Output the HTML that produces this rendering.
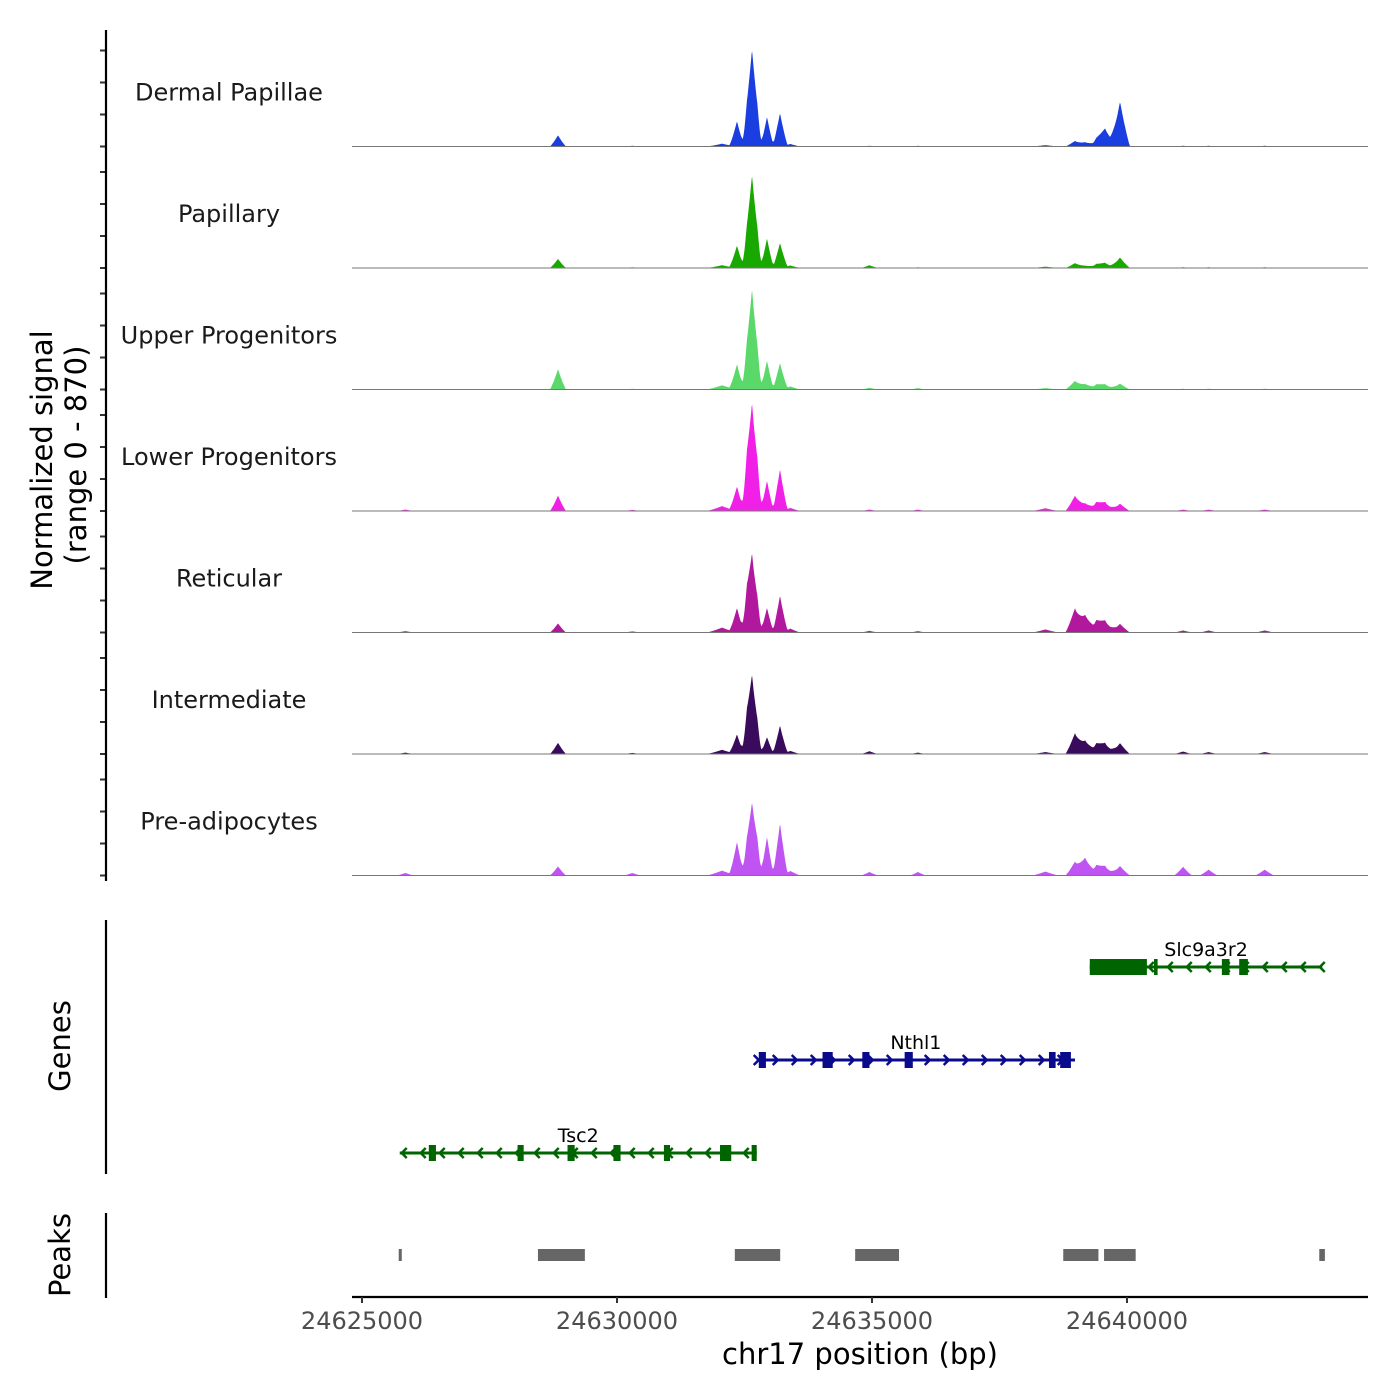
<!DOCTYPE html>
<html><head><meta charset="utf-8"><style>
html,body{margin:0;padding:0;background:#fff}
svg{display:block;font-family:"DejaVu Sans","Liberation Sans",sans-serif}
</style></head><body>
<svg id="chart" width="1400" height="1400" viewBox="0 0 1400 1400"></svg>
<script>
const trackNames = ["Dermal Papillae","Papillary","Upper Progenitors","Lower Progenitors","Reticular","Intermediate","Pre-adipocytes"];
const trackColors = ["#1a3ee0","#18a800","#5ad96a","#f020e6","#b2189e","#3a0a5c","#c054f2"];
const peakPos = [24625850,24628843,24630300,24632060,24632353,24632550,24632647,24632750,24632941,24633196,24633400,24634950,24635900,24638400,24638980,24639176,24639400,24639569,24639863,24641100,24641600,24642700];
const peakWid = [170,160,170,300,150,130,185,120,140,150,200,170,160,260,190,180,210,240,200,180,180,190];
const sigDermal = [3,80,5,20,180,55,680,55,210,240,18,5,5,10,40,32,35,125,320,5,5,5];
const sigPapillary = [3,65,5,20,160,55,650,55,210,180,18,20,5,10,35,18,22,35,75,5,5,5];
const sigUpper = [3,145,5,30,180,75,700,65,205,190,22,12,10,10,62,42,30,35,42,5,5,5];
const sigLower = [10,110,8,35,175,140,740,110,215,300,22,10,10,20,110,58,52,58,52,10,10,10];
const sigReticular = [10,65,8,35,175,130,540,65,175,265,28,12,10,22,175,130,72,78,62,15,15,15];
const sigIntermediate = [10,80,8,30,140,110,545,55,120,205,22,20,10,14,150,100,62,72,78,18,14,14];
const sigPreadip = [18,65,18,35,240,75,505,85,275,375,32,25,25,28,100,130,62,62,68,62,42,42];
const trackSignals = [sigDermal,sigPapillary,sigUpper,sigLower,sigReticular,sigIntermediate,sigPreadip];
const xTicks = [24625000,24630000,24635000,24640000];
const geneNames = ["Slc9a3r2","Nthl1","Tsc2"];
const geneStart = [24639270,24632740,24625740];
const geneEnd = [24643830,24638980,24632740];
const geneStrand = [-1,1,-1];
const geneExonStarts = [[24639270,24640530,24641860,24642200],[24632780,24634030,24634810,24635640,24638470,24638690],[24626310,24628050,24629030,24629930,24630920,24632020,24632640]];
const geneExonEnds = [[24640390,24640600,24642010,24642370],[24632920,24634230,24634950,24635800,24638600,24638900],[24626450,24628170,24629170,24630070,24631040,24632240,24632740]];
const peakStarts = [24625720,24628450,24632310,24634670,24638750,24639550,24643770];
const peakEnds = [24625780,24629370,24633200,24635530,24639440,24640170,24643880];

const NS="http://www.w3.org/2000/svg";
const svg=document.getElementById('chart');
const X0=362, PXBP=0.051;
function xs(bp){return X0+(bp-24625000)*PXBP;}
const PL=352, PR=1368, TOP=25, TH=121.5, SMAX=870;
function ys(v,i){return TOP+TH*(i+1)-v/SMAX*TH;}
function mk(tag,attrs,parent){const e=document.createElementNS(NS,tag);for(const k in attrs)e.setAttribute(k,attrs[k]);(parent||svg).appendChild(e);return e;}

for(let i=0;i<trackNames.length;i++){
  const sig=trackSignals[i];
  let d="M"+xs(24625600)+","+ys(0,i);
  for(let bp=24625600;bp<=24643900;bp+=10){
    let v=0;
    for(let k=0;k<peakPos.length;k++){const t=Math.abs(bp-peakPos[k])/peakWid[k];if(t<1)v+=sig[k]*Math.pow(1-t,1.2);}
    d+=" L"+xs(bp).toFixed(1)+","+ys(v,i).toFixed(1);
  }
  d+=" L"+xs(24643900)+","+ys(0,i)+"Z";
  const p=mk('path',{d:d,fill:trackColors[i]});
  
  
  const l=mk('line',{x1:PL,x2:PR,y1:ys(0,i),y2:ys(0,i),stroke:'#777','stroke-width':1});
  
  
  const t=mk('text',{x:229,y:ys(0,i)-46,'text-anchor':'middle','font-size':24,fill:'#1a1a1a'});
  t.textContent=trackNames[i];
  
  
  for(let j=0;j<4;j++){
    const tk=mk('line',{x1:100,x2:106,y1:ys(0,i)-32*j,y2:ys(0,i)-32*j,stroke:'#333','stroke-width':2});
    
    
  }
}
mk('line',{x1:106,x2:106,y1:30,y2:881,stroke:'#000','stroke-width':2.2,});

const gy=[967,1060,1153];
const gcol=["#006400","#0a0a8c","#006400"];
for(let g=0;g<geneNames.length;g++){
  const y=gy[g],c=gcol[g],x1=xs(geneStart[g]),x2=xs(geneEnd[g]);
  const grp=mk('g',{});
  
  
  mk('line',{x1:x1,x2:x2,y1:y,y2:y,stroke:c,'stroke-width':3},grp);
  const s=geneStrand[g];
  for(let a=x1+2;a<=x2;a+=19){
    mk('polyline',{points:(a-5*s)+","+(y-5)+" "+a+","+y+" "+(a-5*s)+","+(y+5),fill:'none',stroke:c,'stroke-width':2.5},grp);
  }
  for(let e=0;e<geneExonStarts[g].length;e++){
    const ex1=xs(geneExonStarts[g][e]),ex2=xs(geneExonEnds[g][e]);
    mk('rect',{x:ex1,y:y-8,width:Math.max(2.5,ex2-ex1),height:16,fill:c},grp);
  }
  const t=mk('text',{x:(x1+x2)/2,y:y-11,'text-anchor':'middle','font-size':19,fill:'#000'},grp);
  t.textContent=geneNames[g];
}
mk('line',{x1:106,x2:106,y1:920,y2:1174,stroke:'#000','stroke-width':2.2,});

for(let k=0;k<peakStarts.length;k++){
  const r=mk('rect',{x:xs(peakStarts[k]),y:1249,width:Math.max(2,xs(peakEnds[k])-xs(peakStarts[k])),height:12,fill:'#666'});
  
  
}
mk('line',{x1:106,x2:106,y1:1213,y2:1298,stroke:'#000','stroke-width':2.2,});

mk('line',{x1:PL,x2:PR,y1:1297,y2:1297,stroke:'#000','stroke-width':2.2,});
for(const v of xTicks){
  const tk=mk('line',{x1:xs(v),x2:xs(v),y1:1297,y2:1303,stroke:'#333','stroke-width':2});
  
  
  const t=mk('text',{x:xs(v),y:1329,'text-anchor':'middle','font-size':24,fill:'#4d4d4d'});
  t.textContent=String(v);
  
  
}
function txt(s,x,y,size,rot,name){const t=mk('text',{x:x,y:y,'text-anchor':'middle','font-size':size,fill:'#000',transform:rot?`rotate(-90 ${x} ${y})`:''});t.textContent=s;return t;}
txt("chr17 position (bp)",860,1364,29,false,'x-axis-title');
txt("Normalized signal",52,460,29,true,'y-axis-title');
txt("(range 0 - 870)",86,455,29,true,'y-axis-range');
txt("Genes",70,1046,29,true,'genes-title');
txt("Peaks",70,1255,29,true,'peaks-title');
</script>
</body></html>
